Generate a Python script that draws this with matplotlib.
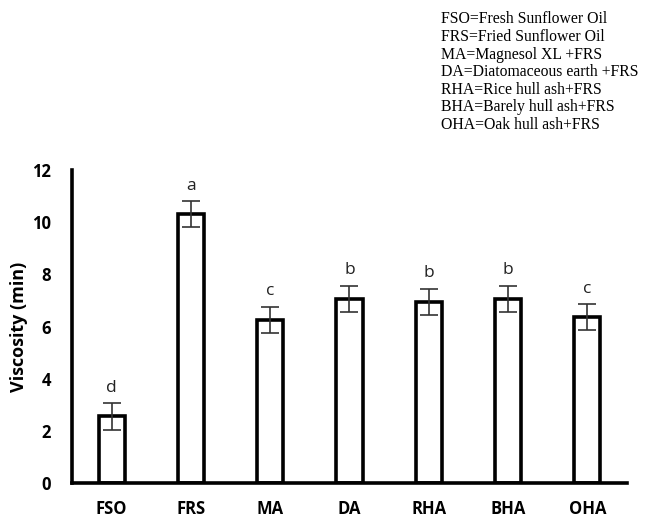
import matplotlib
matplotlib.use('Agg')
import matplotlib.pyplot as plt

# Viscosity of sunflower oil samples
treatments = ['FSO', 'FRS', 'MA', 'DA', 'RHA', 'BHA', 'OHA']
viscosity = [2.55, 10.3, 6.25, 7.05, 6.95, 7.05, 6.35]
errors = [0.5, 0.5, 0.5, 0.5, 0.5, 0.5, 0.5]
groups = ['d', 'a', 'c', 'b', 'b', 'b', 'c']

legend_lines = [
    'FSO=Fresh Sunflower Oil',
    'FRS=Fried Sunflower Oil',
    'MA=Magnesol XL +FRS',
    'DA=Diatomaceous earth +FRS',
    'RHA=Rice hull ash+FRS',
    'BHA=Barely hull ash+FRS',
    'OHA=Oak hull ash+FRS',
]

fig = plt.figure(figsize=(6.46, 5.18), dpi=100)
ax = fig.add_axes([0.1115, 0.0676, 0.859, 0.604])

x = range(len(treatments))
ax.bar(x, viscosity, width=0.33, color='white', edgecolor='black', linewidth=2.6, zorder=2)
ax.errorbar(x, viscosity, yerr=errors, fmt='none', ecolor='#333333',
            elinewidth=1.2, capsize=6.5, capthick=1.2, zorder=3)

for i, (v, e, g) in enumerate(zip(viscosity, errors, groups)):
    ax.text(i, v + e + 0.3, g, ha='center', va='bottom', fontsize=12.5,
            family='Open Sans', color='#222222')

ax.set_xlim(-0.5, len(treatments) - 0.5)
ax.set_ylim(0, 12)
ax.set_yticks(range(0, 13, 2))
ax.set_xticks(list(x))
ax.set_xticklabels(treatments)

for side in ['top', 'right']:
    ax.spines[side].set_visible(False)
for side in ['left', 'bottom']:
    ax.spines[side].set_linewidth(2.6)

ax.tick_params(axis='both', length=0, labelsize=12)
ax.tick_params(axis='y', pad=15)
ax.tick_params(axis='x', pad=12)
for lab in ax.get_xticklabels() + ax.get_yticklabels():
    lab.set_fontweight('bold')
    lab.set_family('Open Sans')

ax.set_ylabel('Viscosity (min)', fontsize=13, fontweight='bold', family='Open Sans')
ax.yaxis.set_label_coords(-0.08, 0.5)

fig.text(0.683, 0.978, '\n'.join(legend_lines), ha='left', va='top',
         fontsize=11.3, family='Liberation Serif', linespacing=1.13)

fig.savefig('out.png', dpi=100)
